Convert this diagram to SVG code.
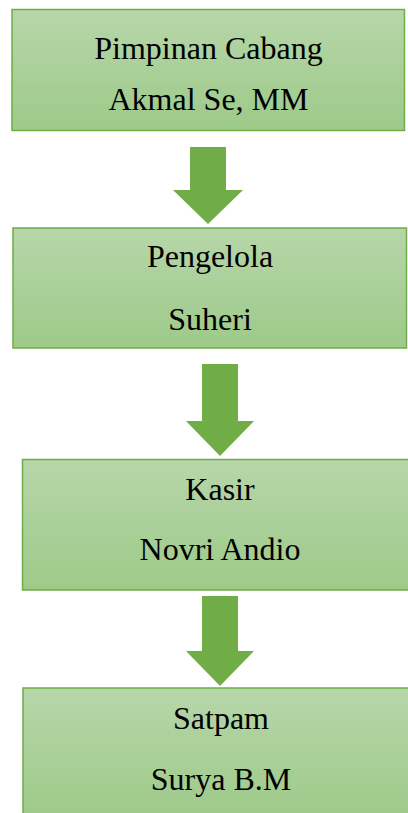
<svg xmlns="http://www.w3.org/2000/svg" width="408" height="813" viewBox="0 0 408 813">
<defs>
<linearGradient id="g" x1="0" y1="0" x2="0" y2="1">
<stop offset="0" stop-color="#b7d6a9"/>
<stop offset="1" stop-color="#9dca89"/>
</linearGradient>
<style>
.box{fill:url(#g);stroke:#70ad47;stroke-width:1.5}
.t{font-family:"Liberation Serif","Times New Roman",serif;font-size:32px;fill:#000;text-anchor:middle}
.arr{fill:#70ad47}
</style>
</defs>
<rect width="408" height="813" fill="#fff"/>
<g id="connectors">
<polygon class="arr" points="190,147 226,147 226,190 243,190 208,224 173,190 190,190"/>
<polygon class="arr" points="202,364 238,364 238,421 254,421 220,456 186,421 202,421"/>
<polygon class="arr" points="202,596 238,596 238,651 254,651 220,686 186,651 202,651"/>
</g>
<g id="node1">
<rect class="box" x="12" y="9.5" width="392.5" height="121"/>
<text class="t" x="208.5" y="59">Pimpinan Cabang</text>
<text class="t" x="208.5" y="110">Akmal Se, MM</text>
</g>
<g id="node2">
<rect class="box" x="13" y="228" width="393.5" height="120"/>
<text class="t" x="210" y="267">Pengelola</text>
<text class="t" x="210" y="330">Suheri</text>
</g>
<g id="node3">
<rect class="box" x="22.5" y="459.5" width="395" height="130.5"/>
<text class="t" x="220" y="500">Kasir</text>
<text class="t" x="220" y="560">Novri Andio</text>
</g>
<g id="node4">
<rect class="box" x="23" y="688" width="395" height="130"/>
<text class="t" x="221" y="729">Satpam</text>
<text class="t" x="221" y="790">Surya B.M</text>
</g>
</svg>
